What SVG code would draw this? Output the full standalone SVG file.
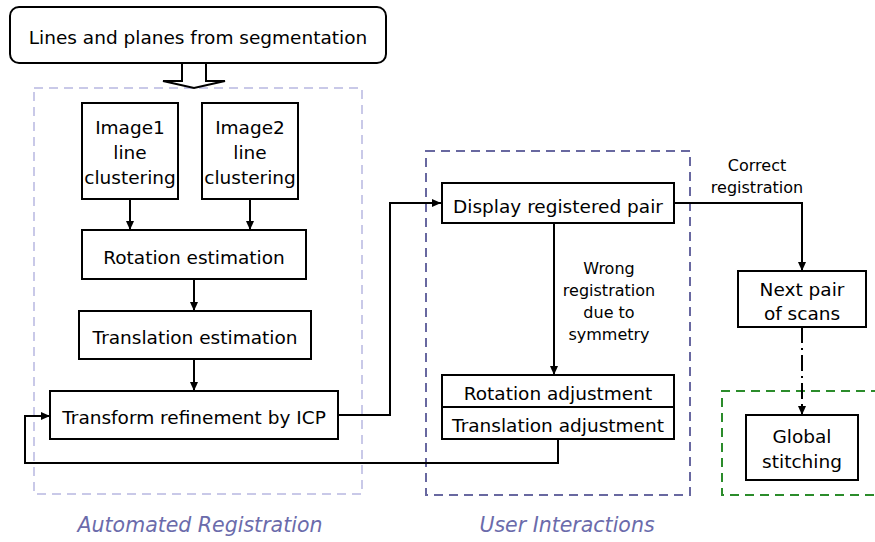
<svg xmlns="http://www.w3.org/2000/svg" width="875" height="542" viewBox="0 0 875 542">
<defs>
<style>
.box{fill:#fff;stroke:#000;stroke-width:2}
.t{font-family:"DejaVu Sans",Verdana,sans-serif;font-size:18.5px;fill:#000;text-anchor:middle}
.s{font-family:"DejaVu Sans",Verdana,sans-serif;font-size:16px;fill:#000;text-anchor:middle}
.lbl{font-family:"DejaVu Sans",Verdana,sans-serif;font-size:20.5px;font-style:italic;fill:#6b6bab;text-anchor:middle}
.c{fill:none;stroke:#000;stroke-width:2}
.grp{fill:none;stroke-width:2;stroke-dasharray:9 6}
</style>
<marker id="ah" markerWidth="10" markerHeight="10" refX="9" refY="5" orient="auto" markerUnits="userSpaceOnUse">
<path d="M0,1 L9,5 L0,9 Z" fill="#000"/>
</marker>
</defs>
<rect width="875" height="542" fill="#fff"/>

<g id="groups">
<rect class="grp" x="34" y="88" width="328" height="406" stroke="#c9c9e8"/>
<rect class="grp" x="426" y="151" width="264" height="344" stroke="#6868a0"/>
<path class="grp" d="M880,391 H722 V495 H880" stroke="#2b8c2b"/>
</g>

<g id="connectors">
<polygon points="182,63 182,81 163,81 194,88 225,81 206,81 206,63" fill="#fff" stroke="#000" stroke-width="2"/>
<line class="c" x1="130" y1="199" x2="130" y2="230" marker-end="url(#ah)"/>
<line class="c" x1="250" y1="199" x2="250" y2="230" marker-end="url(#ah)"/>
<line class="c" x1="194" y1="279" x2="194" y2="311" marker-end="url(#ah)"/>
<line class="c" x1="194" y1="359" x2="194" y2="391" marker-end="url(#ah)"/>
<path class="c" d="M338,415 H390 V203 H441" marker-end="url(#ah)"/>
<line class="c" x1="554" y1="223" x2="554" y2="375" marker-end="url(#ah)"/>
<path class="c" d="M558,440 V463 H25 V416 H50" marker-end="url(#ah)"/>
<path class="c" d="M674,203 H802 V271" marker-end="url(#ah)"/>
<line class="c" x1="802" y1="327" x2="802" y2="415" stroke-dasharray="16 5 2 5" marker-end="url(#ah)"/>
</g>

<g id="n-source">
<rect class="box" x="10" y="7" width="376" height="56" rx="9"/>
<text class="t" x="198" y="44">Lines and planes from segmentation</text>
</g>
<g id="n-img1">
<rect class="box" x="82" y="103" width="96" height="96"/>
<text class="t" x="130" y="134">Image1</text>
<text class="t" x="130" y="159">line</text>
<text class="t" x="130" y="184">clustering</text>
</g>
<g id="n-img2">
<rect class="box" x="202" y="103" width="96" height="96"/>
<text class="t" x="250" y="134">Image2</text>
<text class="t" x="250" y="159">line</text>
<text class="t" x="250" y="184">clustering</text>
</g>
<g id="n-rot">
<rect class="box" x="82" y="230" width="224" height="49"/>
<text class="t" x="194" y="264">Rotation estimation</text>
</g>
<g id="n-trans">
<rect class="box" x="79" y="311" width="232" height="48"/>
<text class="t" x="195" y="344">Translation estimation</text>
</g>
<g id="n-icp">
<rect class="box" x="50" y="391" width="288" height="48"/>
<text class="t" x="194" y="424">Transform refinement by ICP</text>
</g>
<g id="n-display">
<rect class="box" x="442" y="183" width="232" height="40"/>
<text class="t" x="558" y="212.5">Display registered pair</text>
</g>
<g id="l-wrong">
<text class="s" x="609" y="274">Wrong</text>
<text class="s" x="609" y="296">registration</text>
<text class="s" x="609" y="318">due to</text>
<text class="s" x="609" y="340">symmetry</text>
</g>
<g id="n-adjust">
<rect class="box" x="442" y="375" width="232" height="32"/>
<rect class="box" x="442" y="407" width="232" height="32"/>
<text class="t" x="558" y="400">Rotation adjustment</text>
<text class="t" x="558" y="431.5">Translation adjustment</text>
</g>
<g id="l-correct">
<text class="s" x="757" y="171">Correct</text>
<text class="s" x="757" y="193">registration</text>
</g>
<g id="n-next">
<rect class="box" x="738" y="271" width="128" height="56"/>
<text class="t" x="802" y="296">Next pair</text>
<text class="t" x="802" y="320">of scans</text>
</g>
<g id="n-global">
<rect class="box" x="746" y="415" width="112" height="65"/>
<text class="t" x="802" y="443">Global</text>
<text class="t" x="802" y="468">stitching</text>
</g>
<g id="labels">
<text class="lbl" x="200" y="532">Automated Registration</text>
<text class="lbl" x="567" y="532">User Interactions</text>
</g>
</svg>
